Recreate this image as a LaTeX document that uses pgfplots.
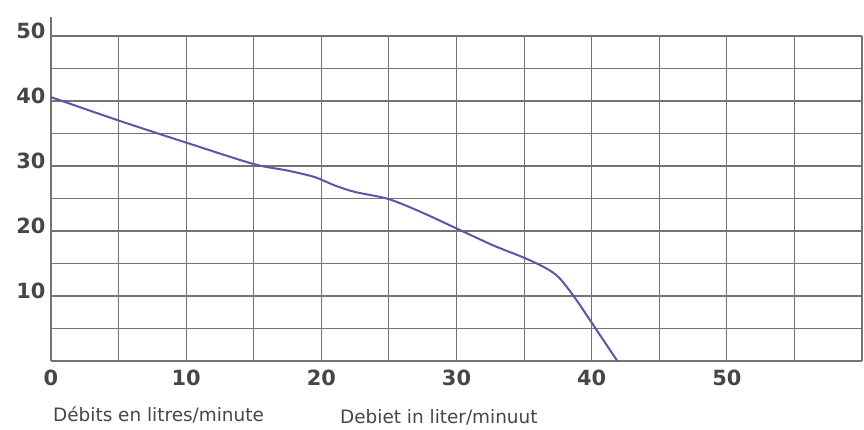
\documentclass[border=0pt]{standalone}
\usepackage{pgfplots}
\pgfplotsset{compat=1.18}
\usepackage{fontspec}
\setmainfont{DejaVu Sans}
\definecolor{gridc}{RGB}{115,115,115}
\definecolor{curvec}{RGB}{92,86,166}
\definecolor{labc}{RGB}{70,70,70}
\begin{document}
\begin{tikzpicture}
\useasboundingbox (0,0) rectangle (864bp,430bp);
\begin{axis}[
  at={(51bp,69bp)}, anchor=south west,
  scale only axis, width=811bp, height=325bp,
  xmin=0, xmax=60, ymin=0, ymax=50,
  axis lines*=left,
  axis line style={gridc, line width=1.3bp},
  y axis line style={shorten >=-19bp},
  xtick={0,10,...,50}, ytick={10,20,...,50},
  minor xtick={5,15,25,35,45,55,60}, minor ytick={5,15,25,35,45},
  major tick length=0pt, minor tick length=0pt,
  grid=both,
  major grid style={gridc, line width=1.1bp},
  minor grid style={gridc, line width=1.1bp},
  /pgf/number format/assume math mode=true,
  ticklabel style={font=\fontsize{21}{24}\selectfont\bfseries, text=labc},
  xticklabel style={yshift=-5bp},
  yticklabel style={yshift=5bp, xshift=-2bp},
  clip=false,
]
\addplot[curvec, line width=2bp, smooth, tension=0.5] coordinates {
(0,40.6) (5,37.0) (10,33.6) (15,30.3) (17.5,29.3) (19.5,28.3) (21,27.0)
(22.5,26.0) (25.0,24.9) (27.5,22.8) (30.1,20.3) (32.7,17.8) (35.1,15.8)
(36.6,14.3) (37.6,12.8) (38.8,9.6) (40.0,5.9) (41.9,0)
};
\end{axis}
\node[anchor=west, text=labc, font=\fontsize{18.5}{22}\selectfont, inner sep=0pt] at (53bp,15bp) {Débits en litres/minute};
\node[anchor=west, text=labc, font=\fontsize{18.5}{22}\selectfont, inner sep=0pt] at (340bp,13bp) {Debiet in liter/minuut};
\end{tikzpicture}
\end{document}
